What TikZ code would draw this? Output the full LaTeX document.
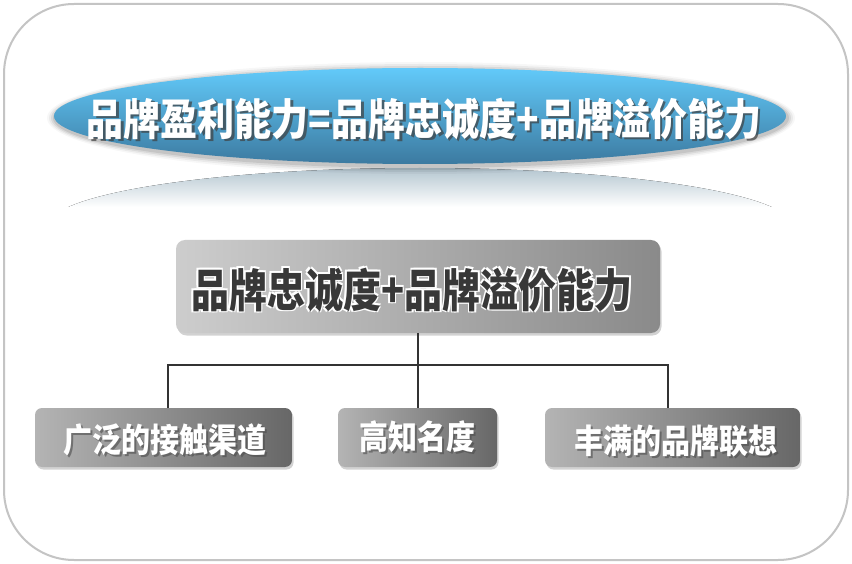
\documentclass[tikz,border=0pt]{standalone}
\usepackage{fontspec}
\newfontfamily\cjk{Noto Sans CJK SC}
\usetikzlibrary{shapes.geometric,shadows,fadings}
\definecolor{framegray}{HTML}{C4C4C4}
\definecolor{skytop}{HTML}{62CAFA}
\definecolor{skybot}{HTML}{3C7AA0}
\definecolor{reflgray}{HTML}{B4C6D0}
\definecolor{linedark}{HTML}{333333}
\definecolor{midleft}{HTML}{CDCDCD}
\definecolor{midright}{HTML}{8A8A8A}
\definecolor{lowleft}{HTML}{B4B4B4}
\definecolor{lowright}{HTML}{676767}
\definecolor{darktext}{HTML}{383838}
\newcommand{\tallt}[2]{\scalebox{1}[#1]{#2}}
\tikzset{
  midbox/.style={draw=none, rounded corners=9pt, left color=midleft, right color=midright,
    drop shadow={shadow xshift=1.5pt, shadow yshift=-2.5pt, opacity=0.35}},
  lowbox/.style={draw=none, rounded corners=7pt, left color=lowleft, right color=lowright,
    drop shadow={shadow xshift=1.5pt, shadow yshift=-2.5pt, opacity=0.35}},
  conn/.style={draw=linedark, line width=1.8pt},
  lowfont/.style={font=\cjk\bfseries\fontsize{29}{31}\selectfont},
  whitetxt/.style={lowfont, text=white},
  shadetxt/.style={lowfont, text=black!70, opacity=0.6},
  topfont/.style={font=\cjk\bfseries\fontsize{37}{40}\selectfont},
  midfont/.style={font=\cjk\bfseries\fontsize{38}{40}\selectfont},
}
\begin{document}
\begin{tikzpicture}[x=1pt,y=-1pt]
\useasboundingbox (0,0) rectangle (852,564);
\fill[white] (0,0) rectangle (852,564);
% outer frame
\draw[framegray, line width=2pt, rounded corners=70pt] (4,4) rectangle (848,560);
% reflection
\begin{scope}
\clip (420,226) ellipse [x radius=372pt, y radius=58pt];
\fill[top color=reflgray, bottom color=white] (45,168) rectangle (795,207);
\end{scope}
% shadow of ellipse
\foreach \k/\o in {8/0.03,6/0.05,4/0.07,2/0.09}{
  \fill[black, opacity=\o] (421,118) ellipse [x radius={366pt+\k pt}, y radius={48pt+\k pt}];
}
% top ellipse
\path[top color=skytop, bottom color=skybot] (420,116) ellipse [x radius=366pt, y radius=48pt];
\node[topfont, text=black!75, opacity=0.7] at (426.5,121.5) {\tallt{1.17}{品牌盈利能力=品牌忠诚度+品牌溢价能力}};
\node[topfont, text=white] (toptext) at (424,119) {\tallt{1.17}{品牌盈利能力=品牌忠诚度+品牌溢价能力}};
% middle box
\path[midbox] (176,240) rectangle (660,333);
\coordinate (midS) at (418,333);
\foreach \dx/\dy in {-1.5/-1.5,1.5/1.5,-1.5/1.5,1.5/-1.5}{
  \node[midfont, text=white] at ({412+\dx},{290+\dy}) {\tallt{1.2}{品牌忠诚度+品牌溢价能力}};
}
\node[midfont, text=darktext] (mid) at (412,290) {\tallt{1.2}{品牌忠诚度+品牌溢价能力}};
% bottom boxes
\path[lowbox] (35,408) rectangle (292,467);
\path[lowbox] (338,408) rectangle (497,467);
\path[lowbox] (545,408) rectangle (800,467);
\coordinate (aN) at (168,408);
\coordinate (bN) at (418,408);
\coordinate (cN) at (668,408);
\node[shadetxt] at (167,442) {\tallt{1.15}{广泛的接触渠道}};
\node[whitetxt] (a) at (165,440) {\tallt{1.15}{广泛的接触渠道}};
\node[shadetxt] at (419,439) {\tallt{1.15}{高知名度}};
\node[whitetxt] (b) at (417,437) {\tallt{1.15}{高知名度}};
\node[shadetxt] at (678,443) {\tallt{1.15}{丰满的品牌联想}};
\node[whitetxt] (c) at (676,441) {\tallt{1.15}{丰满的品牌联想}};
% connectors
\coordinate (junc) at (418,365);
\draw[conn] (midS) -- (junc);
\draw[conn] (aN) |- (junc) -| (cN);
\draw[conn] (junc) -- (bN);
\end{tikzpicture}
\end{document}
